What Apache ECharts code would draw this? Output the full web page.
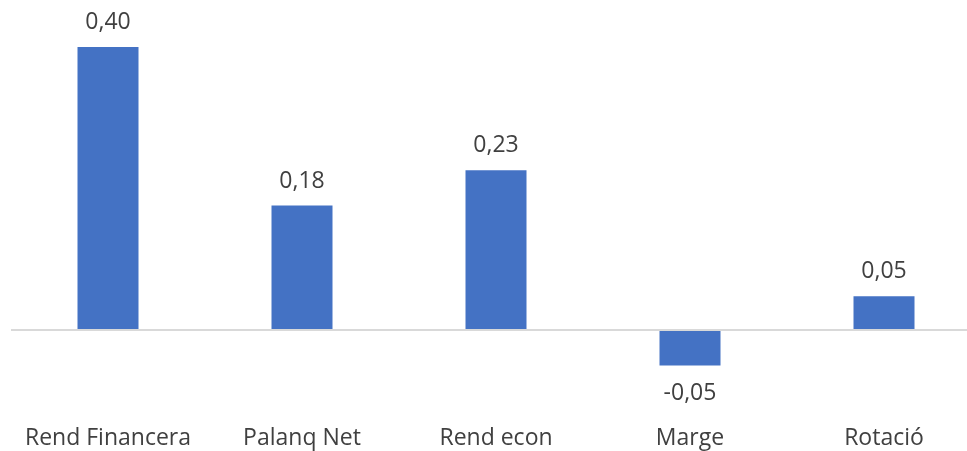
<!DOCTYPE html>
<html>
<head>
<meta charset="utf-8">
<script src="https://cdn.jsdelivr.net/npm/echarts@6/dist/echarts.min.js"></script>
<style>
  html, body { margin: 0; padding: 0; background: #fff; overflow: hidden; }
  #chart { width: 981px; height: 451px; }
</style>
</head>
<body>
<div id="chart"></div>
<script>
const categories = ['Rend Financera', 'Palanq Net', 'Rend econ', 'Marge', 'Rotació'];
const values = [0.40, 0.176, 0.226, -0.05, 0.048];

const chart = echarts.init(document.getElementById('chart'));

const option = {
  animation: false,
  textStyle: { fontFamily: 'Open Sans' },
  grid: { left: 11, right: 0, top: 11.6, bottom: 50 },
  xAxis: {
    type: 'category',
    data: categories,
    axisLine: { show: false, onZero: false },
    axisTick: { show: false },
    axisLabel: { interval: 0, color: '#404040', fontSize: 23, margin: 26, fontFamily: 'Open Sans' }
  },
  yAxis: {
    type: 'value',
    min: -0.1,
    max: 0.45,
    show: false
  },
  series: [{
    type: 'bar',
    barWidth: 61,
    itemStyle: { color: '#4472c4' },
    label: {
      show: true,
      position: 'top',
      distance: 13,
      color: '#404040',
      fontSize: 23,
      fontFamily: 'Open Sans',
      formatter: p => p.value.toFixed(2).replace('.', ',')
    },
    markLine: {
      silent: true,
      symbol: 'none',
      label: { show: false },
      lineStyle: { color: '#d9d9d9', width: 2, type: 'solid' },
      data: [{ yAxis: 0 }]
    },
    // negative bars get their label underneath
    data: values.map(v => v < 0
      ? { value: v, label: { position: 'bottom', distance: 16 } }
      : v)
  }]
};

chart.setOption(option);
</script>
</body>
</html>
